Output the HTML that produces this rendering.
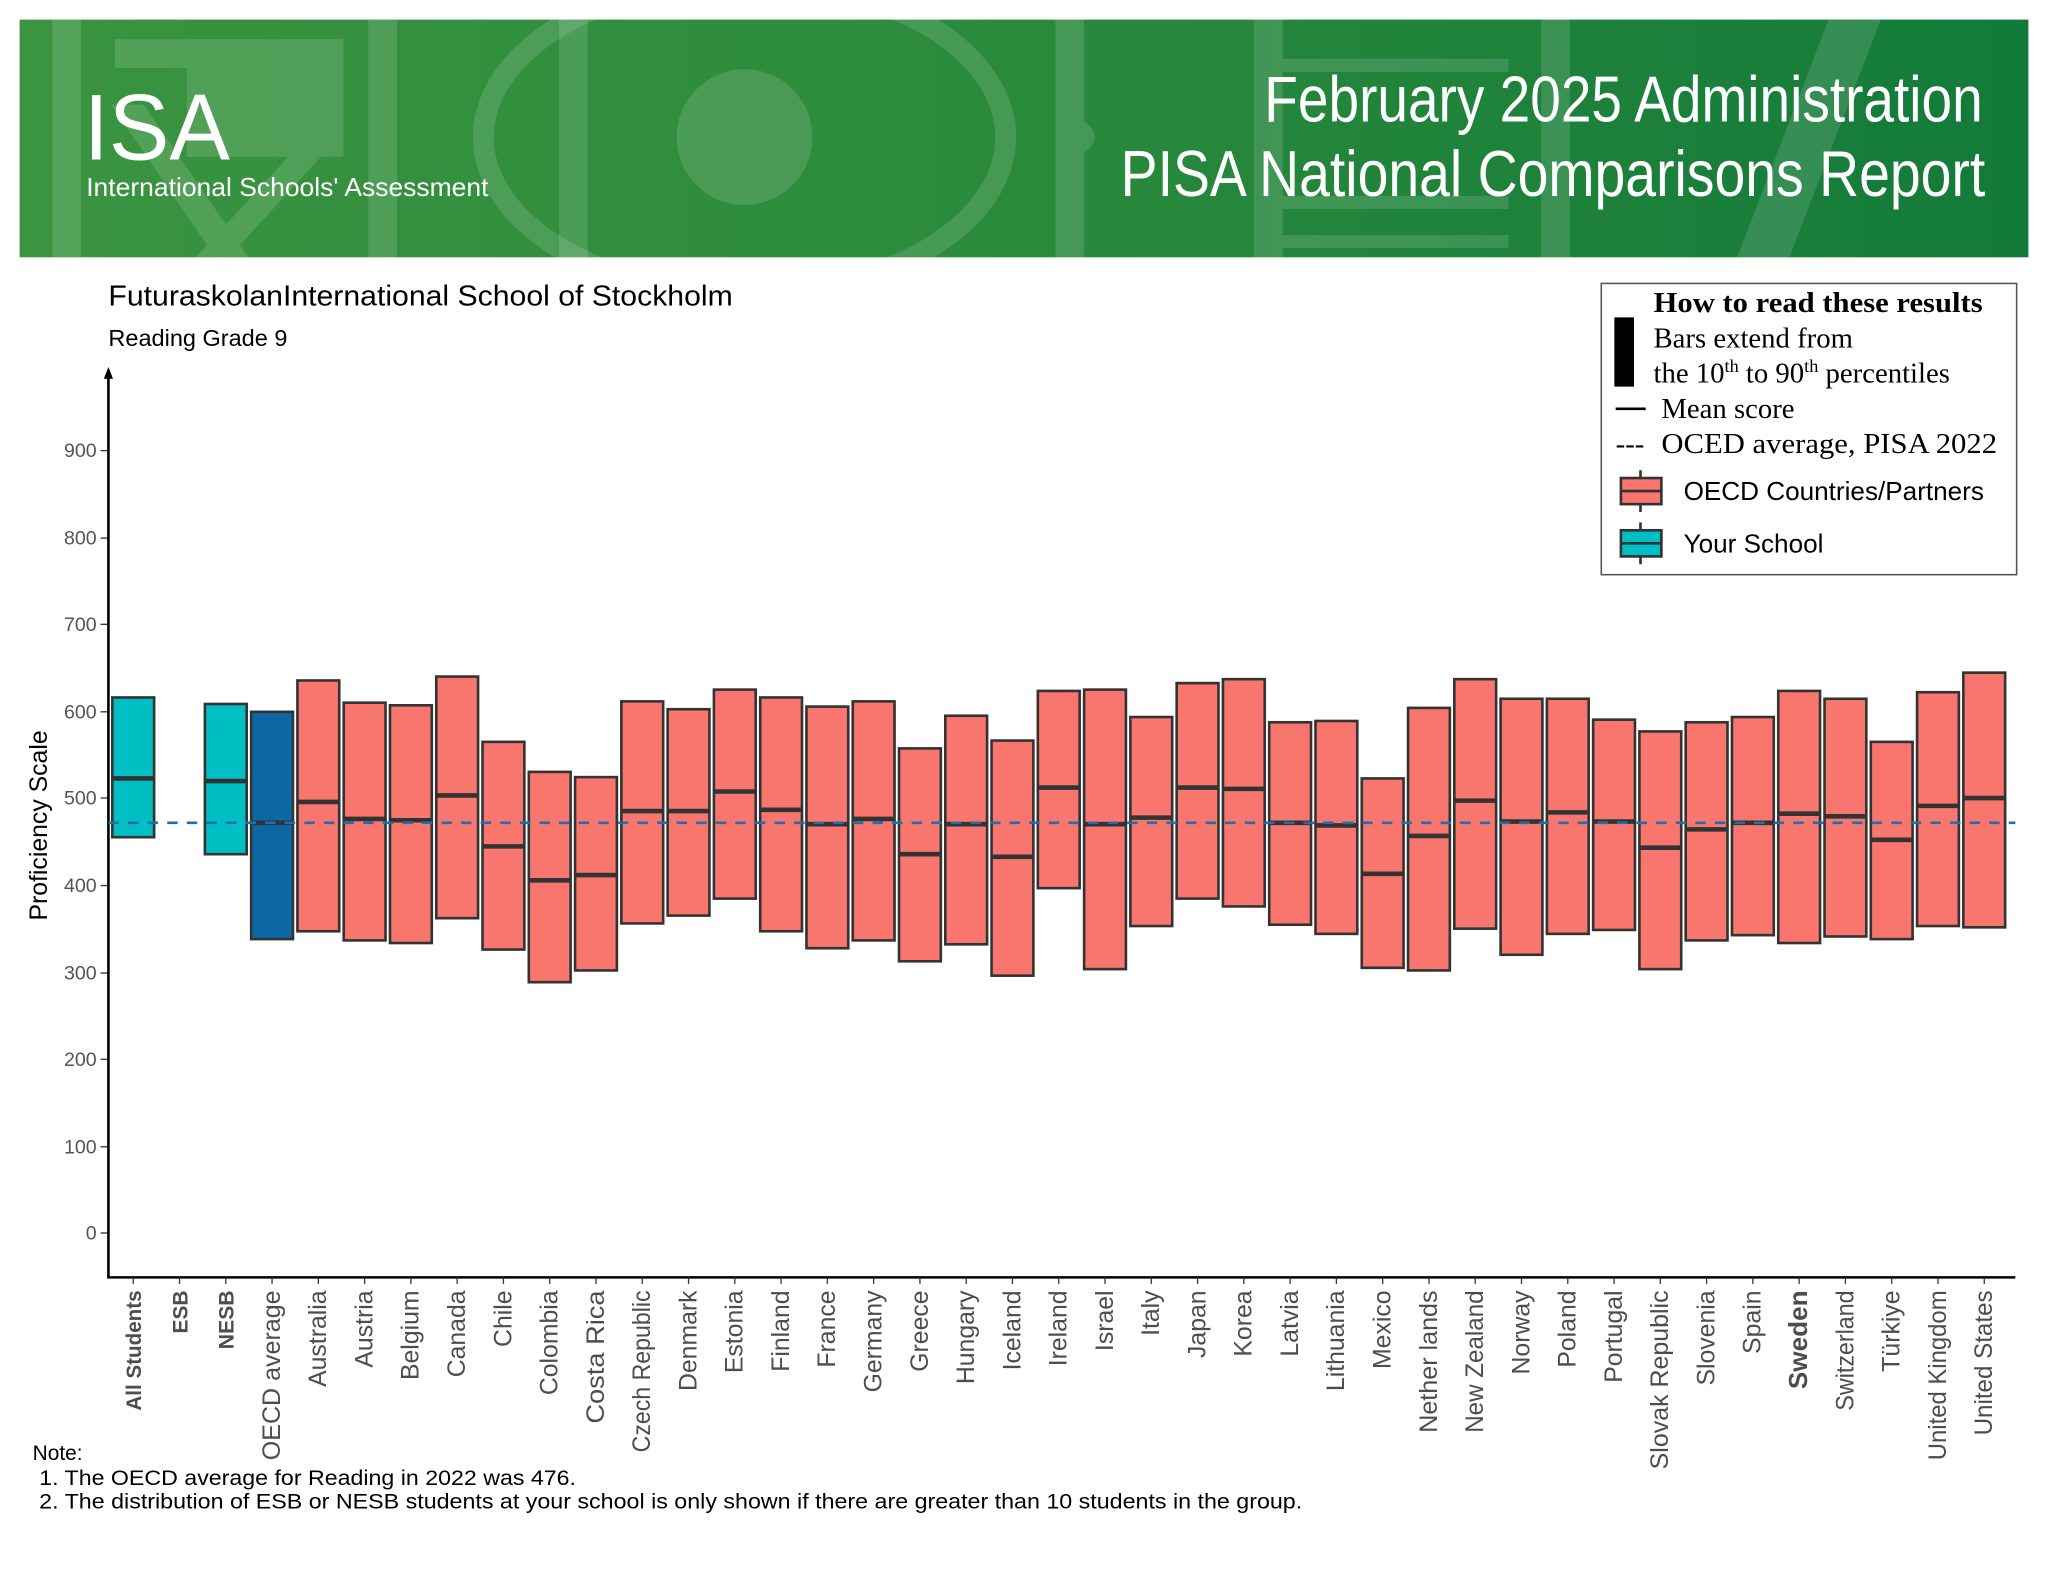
<!DOCTYPE html>
<html><head><meta charset="utf-8"><style>html,body{margin:0;padding:0;background:#fff}svg{display:block}</style></head><body>
<svg width="2048" height="1583" viewBox="0 0 1568 1212" xmlns="http://www.w3.org/2000/svg" font-family="Liberation Sans, sans-serif">
<defs><linearGradient id="g" x1="0" x2="1"><stop offset="0" stop-color="#3a9440"/><stop offset="0.5" stop-color="#2a8a3c"/><stop offset="1" stop-color="#137a3a"/></linearGradient></defs>
<rect x="15" y="15" width="1538" height="182" fill="url(#g)"/>
<g fill="#ffffff" opacity="0.13">
<rect x="40" y="15" width="22" height="182"/><rect x="88" y="30" width="175" height="22"/><rect x="143" y="30" width="120" height="90"/>
<polygon points="85,80 110,80 190,197 165,197"/><polygon points="230,110 255,110 175,197 150,197"/>
<rect x="282" y="15" width="22" height="182"/><rect x="428" y="15" width="22" height="182"/>
<circle cx="570" cy="105" r="52"/><circle cx="826" cy="105" r="12"/>
<rect x="808" y="15" width="22" height="182"/><rect x="960" y="15" width="22" height="182"/>
<rect x="975" y="45" width="180" height="10"/><rect x="975" y="150" width="180" height="10"/><rect x="975" y="180" width="180" height="10"/>
<rect x="1180" y="15" width="22" height="182"/><polygon points="1400,15 1440,15 1370,197 1330,197"/>
</g>
<ellipse cx="570" cy="105" rx="200" ry="120" fill="none" stroke="#fff" stroke-opacity="0.13" stroke-width="16"/>
<text x="64" y="122" fill="#fff" font-size="72" textLength="112" lengthAdjust="spacingAndGlyphs">ISA</text>
<text x="66" y="150" fill="#fff" font-size="20" textLength="308" lengthAdjust="spacingAndGlyphs">International Schools' Assessment</text>
<text x="1518" y="93" fill="#fff" font-size="50" text-anchor="end" textLength="550" lengthAdjust="spacingAndGlyphs">February 2025 Administration</text>
<text x="1520" y="150" fill="#fff" font-size="50" text-anchor="end" textLength="662" lengthAdjust="spacingAndGlyphs">PISA National Comparisons Report</text>
<text x="83" y="234" font-size="22" textLength="478" lengthAdjust="spacingAndGlyphs">FuturaskolanInternational School of Stockholm</text>
<text x="83" y="265" font-size="18">Reading Grade 9</text>
<rect x="1226" y="217" width="318" height="223" fill="#fff" stroke="#555" stroke-width="1.2"/>
<g font-family="Liberation Serif, serif" font-size="22">
<text x="1266" y="239" font-weight="bold" textLength="252" lengthAdjust="spacingAndGlyphs">How to read these results</text>
<rect x="1236" y="243" width="15" height="53" fill="#000"/>
<text x="1266" y="266">Bars extend from</text>
<text x="1266" y="293">the 10<tspan font-size="14" dy="-8">th</tspan><tspan dy="8"> to 90</tspan><tspan font-size="14" dy="-8">th</tspan><tspan dy="8"> percentiles</tspan></text>
<line x1="1237" y1="313" x2="1260" y2="313" stroke="#000" stroke-width="2"/>
<text x="1272" y="320">Mean score</text>
<text x="1237" y="347">---</text><text x="1272" y="347" textLength="257" lengthAdjust="spacingAndGlyphs">OCED average, PISA 2022</text>
</g>
<g stroke="#333" stroke-width="2">
<line x1="1256" y1="360" x2="1256" y2="392"/><rect x="1241" y="366" width="31" height="20" fill="#f8766d"/><line x1="1241" y1="376" x2="1272" y2="376"/>
<line x1="1256" y1="400" x2="1256" y2="432"/><rect x="1241" y="406" width="31" height="20" fill="#00bfc4"/><line x1="1241" y1="416" x2="1272" y2="416"/>
</g>
<text x="1289" y="383" font-size="20">OECD Countries/Partners</text>
<text x="1289" y="423" font-size="20">Your School</text>
<g font-size="15" fill="#555" text-anchor="end">
<text x="74" y="350">900</text><text x="74" y="417">800</text><text x="74" y="483">700</text><text x="74" y="550">600</text><text x="74" y="616">500</text><text x="74" y="683">400</text><text x="74" y="750">300</text><text x="74" y="816">200</text><text x="74" y="883">100</text><text x="74" y="949">0</text>
</g>
<g stroke="#333" stroke-width="1"><line x1="77" y1="345" x2="83" y2="345"/><line x1="77" y1="412" x2="83" y2="412"/><line x1="77" y1="478" x2="83" y2="478"/><line x1="77" y1="545" x2="83" y2="545"/><line x1="77" y1="611" x2="83" y2="611"/><line x1="77" y1="678" x2="83" y2="678"/><line x1="77" y1="745" x2="83" y2="745"/><line x1="77" y1="811" x2="83" y2="811"/><line x1="77" y1="878" x2="83" y2="878"/><line x1="77" y1="944" x2="83" y2="944"/></g>
<text transform="translate(36,632) rotate(-90)" font-size="19" text-anchor="middle">Proficiency Scale</text>
<line x1="83" y1="287" x2="83" y2="978" stroke="#000" stroke-width="2"/>
<polygon points="83,281 79.5,290 86.5,290" fill="#000"/>
<line x1="82" y1="978" x2="1543" y2="978" stroke="#000" stroke-width="2"/>
<g id="bars" stroke="#333" stroke-width="2"></g>
<line x1="83" y1="630" x2="1543" y2="630" stroke="#1f6fad" stroke-width="2" stroke-dasharray="8,7"/>
<g id="xl" font-size="19" fill="#4d4d4d"></g>
<g font-size="16">
<text x="25" y="1118">Note:</text>
<text x="30" y="1137" textLength="411" lengthAdjust="spacingAndGlyphs">1. The OECD average for Reading in 2022 was 476.</text>
<text x="30" y="1155" textLength="967" lengthAdjust="spacingAndGlyphs">2. The distribution of ESB or NESB students at your school is only shown if there are greater than 10 students in the group.</text>
</g>
<script>
var d=[["All Students",534,596,641,"#00bfc4",1],["ESB",0,0,0,"",1],["NESB",539,598,654,"#00bfc4",1],["OECD average",545,630,719,"#0b68a3",0],
["Australia",521,614,713],["Austria",538,627,720],["Belgium",540,628,722],["Canada",518,609,703],["Chile",568,648,727],["Colombia",591,674,752],["Costa Rica",595,670,743],["Czech Republic",537,621,707],["Denmark",543,621,701],["Estonia",528,606,688],["Finland",534,620,713],["France",541,631,726],["Germany",537,627,720],["Greece",573,654,736],["Hungary",548,631,723],["Iceland",567,656,747],["Ireland",529,603,680],["Israel",528,631,742],["Italy",549,626,709],["Japan",523,603,688],["Korea",520,604,694],["Latvia",553,630,708],["Lithuania",552,632,715],["Mexico",596,669,741],["Nether lands",542,640,743],["New Zealand",520,613,711],["Norway",535,629,731],["Poland",535,622,715],["Portugal",551,629,712],["Slovak Republic",560,649,742],["Slovenia",553,635,720],["Spain",549,630,716],["Sweden",529,623,722,"",2],["Switzerland",535,625,717],["Türkiye",568,643,719],["United Kingdom",530,617,709],["United States",515,611,710]];
var NS="http://www.w3.org/2000/svg",b=document.getElementById("bars"),xl=document.getElementById("xl");
function el(p,t,a){var e=document.createElementNS(NS,t);for(var k in a)e.setAttribute(k,a[k]);p.appendChild(e);return e;}
var L={"All Students":92,"ESB":33,"NESB":45,"OECD average":130,"Czech Republic":124,"Slovak Republic":137,"United Kingdom":130,"United States":111,"Nether lands":109,"New Zealand":109,"Costa Rica":102,"Switzerland":92};
d.forEach(function(r,i){var x=102+i*35.43;
 el(b,"line",{x1:x,y1:978,x2:x,y2:983,"stroke-width":1});
 if(r[1]){el(b,"rect",{x:x-16,y:r[1],width:32,height:r[3]-r[1],fill:r[4]||"#f8766d"});
  el(b,"line",{x1:x-16,y1:r[2],x2:x+16,y2:r[2],"stroke-width":3.5});}
 var t=el(xl,"text",{transform:"translate("+(x+6)+",988) rotate(-90)","text-anchor":"end"});
 if(r[5]===1){t.setAttribute("font-weight","bold");t.setAttribute("font-size","16");}
 if(r[5]===2){t.setAttribute("font-weight","bold");t.setAttribute("font-size","20");}
 if(L[r[0]]){t.setAttribute("textLength",L[r[0]]);t.setAttribute("lengthAdjust","spacingAndGlyphs");}
 t.textContent=r[0];});
</script>
</svg>
</body></html>
